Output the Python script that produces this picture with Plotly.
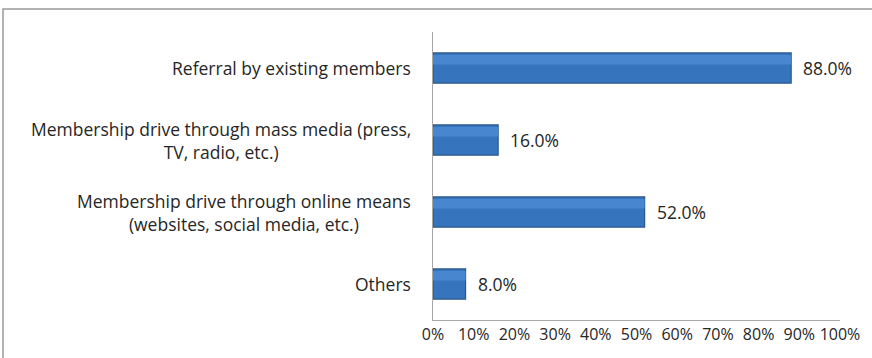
import plotly.graph_objects as go

# Survey: recruitment channels used by member organisations
categories = [
    "Referral by existing members",
    "Membership drive through mass media (press,<br>TV, radio, etc.)",
    "Membership drive through online means<br>(websites, social media, etc.)",
    "Others",
]
shares = [88.0, 16.0, 52.0, 8.0]
tick_values = [0, 10, 20, 30, 40, 50, 60, 70, 80, 90, 100]
tick_labels = [f"{v}%" for v in tick_values]

FONT = "Open Sans, Calibri, sans-serif"
TEXT = "#262626"
BAR_W = 0.42

fig = go.Figure()
# main bar body
fig.add_trace(go.Bar(
    x=shares, y=categories, orientation="h",
    width=BAR_W,
    marker=dict(color="#3675bd", line=dict(color="#28568c", width=1.2)),
    showlegend=False, hoverinfo="skip",
))
# lighter band on the upper half for a bevelled look
fig.add_trace(go.Bar(
    x=shares, y=categories, orientation="h",
    width=0.13, offset=0.05,
    marker=dict(color="#4887cf", line=dict(width=0)),
    showlegend=False, hoverinfo="skip",
))

# Value labels to the right of each bar
for cat, v in zip(categories, shares):
    fig.add_annotation(
        x=v, xref="x", y=cat, yref="y",
        text=f"{v:.1f}%", showarrow=False,
        xanchor="left", xshift=10,
        font=dict(family=FONT, size=17.5, color=TEXT),
    )

# Category labels, centred line by line to the left of the axis
for cat in categories:
    fig.add_annotation(
        x=0, xref="paper", y=cat, yref="y",
        text=cat, showarrow=False,
        xanchor="right", xshift=-20, align="center",
        font=dict(family=FONT, size=17.5, color=TEXT),
    )

# Chart frame
fig.add_shape(
    type="rect", xref="paper", yref="paper",
    x0=-1.0565, x1=1.2, y0=-0.2, y1=1.0799,
    line=dict(color="#9a9a9a", width=1.5), fillcolor="rgba(0,0,0,0)",
    layer="below",
)

fig.update_layout(
    width=872, height=358,
    margin=dict(l=433, r=32, t=32, b=38),
    paper_bgcolor="white", plot_bgcolor="white",
    barmode="overlay",
    xaxis=dict(
        range=[0, 100], tickvals=tick_values, ticktext=tick_labels,
        showgrid=False, zeroline=False, showline=True,
        linecolor="#a6a6a6", linewidth=1, ticks="",
        tickfont=dict(family=FONT, size=16, color=TEXT),
        fixedrange=True,
    ),
    yaxis=dict(
        categoryorder="array", categoryarray=categories[::-1],
        showticklabels=False, showgrid=False, zeroline=False,
        showline=True, linecolor="#a6a6a6", linewidth=1, ticks="",
        fixedrange=True,
    ),
)

fig.write_html("out.html")
